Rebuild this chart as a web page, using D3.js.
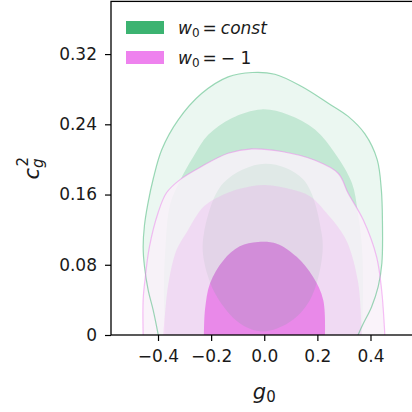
<!DOCTYPE html>
<html>
<head>
<meta charset="utf-8">
<script src="https://d3js.org/d3.v7.min.js"></script>
<style>
  body { margin: 0; background: #fff; }
  svg { display: block; }
  text { font-family: "DejaVu Sans", sans-serif; fill: #1a1a1a; }
</style>
</head>
<body>
<svg id="chart" width="412" height="412"></svg>
<script>
// Graduations
const xTicks = [-0.4, -0.2, 0.0, 0.2, 0.4];
const xTickLabels = ["−0.4", "−0.2", "0.0", "0.2", "0.4"];
const yTicks = [0, 0.08, 0.16, 0.24, 0.32];
const yTickLabels = ["0", "0.08", "0.16", "0.24", "0.32"];

// Légende : w0 = ...
const legendRhs = ["const", "− 1"];
const legendRhsItalic = [true, false];

// Contours (g0, c_g^2), série w0 = const
const green99 = [[-0.399,0],[-0.418,0.028],[-0.437,0.051],[-0.451,0.078],[-0.456,0.100],[-0.451,0.125],[-0.438,0.150],[-0.418,0.178],[-0.386,0.211],[-0.324,0.245],[-0.236,0.275],[-0.136,0.294],[-0.045,0.299],[0.040,0.297],[0.141,0.283],[0.241,0.264],[0.316,0.249],[0.379,0.229],[0.425,0.200],[0.441,0.165],[0.445,0.130],[0.443,0.082],[0.429,0.055],[0.404,0.032],[0.373,0.013],[0.353,0]];
const green95 = [[-0.372,0],[-0.378,0.05],[-0.372,0.10],[-0.355,0.148],[-0.317,0.176],[-0.267,0.203],[-0.211,0.228],[-0.123,0.247],[-0.010,0.257],[0.090,0.251],[0.191,0.234],[0.266,0.207],[0.330,0.173],[0.352,0.140],[0.368,0.10],[0.372,0.05],[0.368,0]];
const green68 = [[0.003,0.195],[0.147,0.177],[0.216,0.116],[0.216,0.085],[0.172,0.040],[0.097,0.015],[-0.004,0.004],[-0.091,0.013],[-0.179,0.044],[-0.227,0.085],[-0.227,0.116],[-0.154,0.173]];

// série w0 = -1
const magenta99 = [[-0.456,0],[-0.456,0.040],[-0.449,0.063],[-0.432,0.101],[-0.400,0.139],[-0.368,0.162],[-0.317,0.177],[-0.236,0.192],[-0.136,0.207],[-0.047,0.212],[0.066,0.209],[0.191,0.199],[0.279,0.184],[0.315,0.162],[0.373,0.131],[0.423,0.089],[0.442,0.051],[0.454,0]];
const magenta95 = [[-0.380,0],[-0.372,0.030],[-0.360,0.060],[-0.330,0.097],[-0.290,0.118],[-0.235,0.144],[-0.192,0.154],[-0.100,0.166],[0.003,0.171],[0.100,0.166],[0.172,0.158],[0.240,0.137],[0.285,0.120],[0.315,0.104],[0.354,0.059],[0.367,0]];
const magenta68 = [[-0.227,0],[-0.223,0.029],[-0.204,0.059],[-0.154,0.085],[-0.092,0.101],[-0.023,0.106],[0.047,0.104],[0.122,0.089],[0.184,0.066],[0.222,0.040],[0.229,0]];

const green = "#3cb371";
const violet = "#ee82ee";

var svg = d3.select("#chart");

var x = d3.scaleLinear().domain([-0.577, 0.58]).range([111, 418.3]);
var y = d3.scaleLinear().domain([0, 0.38]).range([335, 1.4]);

svg.append("clipPath").attr("id", "plot")
  .append("rect")
  .attr("x", x(-0.577)).attr("y", y(0.38))
  .attr("width", x(0.58) - x(-0.577)).attr("height", y(0) - y(0.38));

// Courbes : ouvertes (coupées à c_g^2 = 0) ou fermées
var lineOpen = d3.line().x(d => x(d[0])).y(d => y(d[1])).curve(d3.curveCatmullRom);
var lineRing = d3.line().x(d => x(d[0])).y(d => y(d[1])).curve(d3.curveCatmullRomClosed);
function zone(pts) { return lineOpen(pts) + "Z"; }

svg.append("clipPath").attr("id", "core")
  .append("path").attr("d", zone(magenta68));

var g = svg.append("g").attr("clip-path", "url(#plot)");

// w0 = const
g.append("path").attr("d", zone(green99)).attr("fill", green).attr("fill-opacity", 0.1);
g.append("path").attr("d", zone(green95)).attr("fill", green).attr("fill-opacity", 0.222);
g.append("path").attr("d", lineRing(green68)).attr("fill", green).attr("fill-opacity", 0.857);

// w0 = -1
g.append("path").attr("d", zone(magenta99)).attr("fill", "#f9f1f9").attr("fill-opacity", 0.85);
g.append("path").attr("d", zone(magenta95)).attr("fill", violet).attr("fill-opacity", 0.2);
g.append("path").attr("d", zone(magenta68)).attr("fill", "#e880e8").attr("fill-opacity", 0.9);

// recouvrement des deux coeurs
g.append("path").attr("d", lineRing(green68)).attr("clip-path", "url(#core)")
  .attr("fill", green).attr("fill-opacity", 0.12);

// contours extérieurs
g.append("path").attr("d", lineOpen(green99)).attr("fill", "none")
  .attr("stroke", green).attr("stroke-opacity", 0.5).attr("stroke-width", 1.2);
g.append("path").attr("d", lineOpen(magenta99)).attr("fill", "none")
  .attr("stroke", violet).attr("stroke-opacity", 0.5).attr("stroke-width", 1.2);

// Axes
svg.append("g").attr("transform", "translate(111,0)")
  .call(d3.axisLeft(y).tickValues(yTicks).tickFormat((d, i) => yTickLabels[i])
    .tickSize(6).tickSizeOuter(0).tickPadding(8));
svg.append("g").attr("transform", "translate(0,335)")
  .call(d3.axisBottom(x).tickValues(xTicks).tickFormat((d, i) => xTickLabels[i])
    .tickSize(6).tickSizeOuter(0).tickPadding(9));

svg.selectAll(".tick text").attr("font-size", 17).attr("font-family", "DejaVu Sans").attr("fill", "#1a1a1a");
svg.selectAll(".tick line").attr("stroke", "#000").attr("stroke-width", 1.2);
svg.selectAll(".domain").remove();

// cadre
svg.append("rect")
  .attr("x", x(-0.577)).attr("y", y(0.38))
  .attr("width", x(0.58) - x(-0.577)).attr("height", y(0) - y(0.38))
  .attr("fill", "none").attr("stroke", "#000").attr("stroke-width", 1.3);

// Titres des axes
var xl = svg.append("text").attr("x", x(0)).attr("y", 399)
  .attr("text-anchor", "middle").attr("font-size", 21);
xl.append("tspan").attr("font-style", "italic").text("g");
xl.append("tspan").attr("font-size", 15).attr("dy", 3).text("0");

var yl = svg.append("text")
  .attr("transform", "translate(39," + y(0.19) + ") rotate(-90)")
  .attr("text-anchor", "middle").attr("font-size", 21);
yl.append("tspan").attr("font-style", "italic").text("c");
yl.append("tspan").attr("font-style", "italic").attr("font-size", 15).attr("dy", 4).text("g");
yl.append("tspan").attr("font-size", 15).attr("dx", -8).attr("dy", -15).text("2");

// Légende
var colors = [green, violet];
var leg = svg.append("g");
legendRhs.forEach(function (rhs, i) {
  var cy = 27.5 + i * 30;
  leg.append("rect").attr("x", 126).attr("y", cy - 6.5).attr("width", 38).attr("height", 13)
    .attr("fill", colors[i]);
  var t = leg.append("text").attr("x", 178).attr("y", cy + 6).attr("font-size", 17);
  t.append("tspan").attr("font-style", "italic").text("w");
  t.append("tspan").attr("font-size", 12).attr("dy", 3).text("0");
  t.append("tspan").attr("dy", -3).attr("dx", 3).text("=");
  t.append("tspan").attr("dx", 4).attr("font-style", legendRhsItalic[i] ? "italic" : "normal").text(rhs);
});
</script>
</body>
</html>
